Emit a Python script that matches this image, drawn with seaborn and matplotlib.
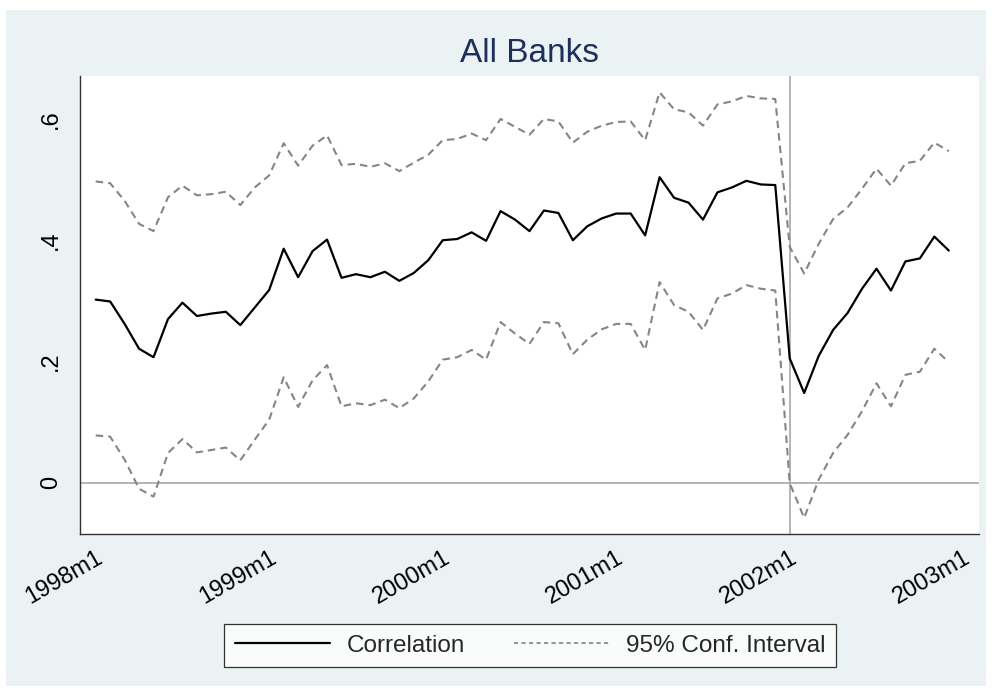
import numpy as np
import pandas as pd
import matplotlib
matplotlib.use("Agg")
import matplotlib.pyplot as plt
from matplotlib.patches import Rectangle
from matplotlib.lines import Line2D
import seaborn as sns

# Monthly rolling correlation, 1998m1 .. 2002m12
correlation = [0.302, 0.299, 0.262, 0.221, 0.207, 0.270, 0.297, 0.275, 0.279, 0.282, 0.260, 0.289,
               0.318, 0.386, 0.339, 0.382, 0.401, 0.338, 0.344, 0.339, 0.348, 0.333, 0.346, 0.367,
               0.400, 0.402, 0.413, 0.399, 0.448, 0.434, 0.415, 0.449, 0.445, 0.400, 0.423, 0.436,
               0.444, 0.444, 0.408, 0.504, 0.470, 0.462, 0.434, 0.479, 0.487, 0.498, 0.492, 0.491,
               0.205, 0.148, 0.209, 0.252, 0.280, 0.320, 0.353, 0.317, 0.365, 0.370, 0.406, 0.383]
ci_upper = [0.497, 0.494, 0.465, 0.427, 0.415, 0.471, 0.490, 0.474, 0.476, 0.480, 0.458, 0.487,
            0.507, 0.560, 0.523, 0.556, 0.573, 0.524, 0.526, 0.521, 0.527, 0.514, 0.528, 0.541,
            0.565, 0.567, 0.576, 0.565, 0.600, 0.587, 0.574, 0.600, 0.596, 0.561, 0.579, 0.589,
            0.595, 0.596, 0.565, 0.644, 0.616, 0.611, 0.589, 0.624, 0.629, 0.638, 0.634, 0.633,
            0.389, 0.345, 0.394, 0.435, 0.454, 0.485, 0.518, 0.490, 0.527, 0.531, 0.561, 0.547]
ci_lower = [0.078, 0.076, 0.038, -0.010, -0.023, 0.049, 0.072, 0.050, 0.054, 0.058, 0.037, 0.071,
            0.104, 0.174, 0.125, 0.169, 0.194, 0.126, 0.131, 0.128, 0.137, 0.123, 0.139, 0.167,
            0.203, 0.207, 0.219, 0.203, 0.265, 0.246, 0.229, 0.265, 0.263, 0.212, 0.236, 0.253,
            0.262, 0.262, 0.219, 0.331, 0.293, 0.282, 0.252, 0.304, 0.312, 0.326, 0.320, 0.317,
            -0.001, -0.058, 0.005, 0.049, 0.079, 0.118, 0.164, 0.126, 0.178, 0.183, 0.221, 0.199]

tick_months = [0, 12, 24, 36, 48, 60]
tick_labels = ["1998m1", "1999m1", "2000m1", "2001m1", "2002m1", "2003m1"]
y_ticks = [0, 0.2, 0.4, 0.6]
y_tick_labels = ["0", ".2", ".4", ".6"]
break_month = 48  # 2002m1

month = np.arange(len(correlation))
df = pd.DataFrame({"month": month, "corr": correlation,
                   "upper": ci_upper, "lower": ci_lower})

sns.set_style("white")
plt.rcParams["font.family"] = ["Liberation Sans", "DejaVu Sans"]

BG = "#EAF2F3"
TXT = "#1E2F5C"
CI_COLOR = "#858585"

fig = plt.figure(figsize=(9.92, 6.96), dpi=100, facecolor="white")
fig.patches.append(Rectangle((6 / 992, 1 - 686 / 696), 980 / 992, 676 / 696,
                             transform=fig.transFigure, facecolor=BG,
                             edgecolor="none", zorder=-10))

ax = fig.add_axes([80 / 992, 1 - 534.3 / 696, 899 / 992, 458.3 / 696])
ax.set_facecolor("white")

ax.axhline(0, color="#a8a8a8", lw=1.2, zorder=1)
ax.axvline(break_month, color="#a8a8a8", lw=1.2, zorder=1)

dash = (3.6, 2.4)
sns.lineplot(data=df, x="month", y="upper", ax=ax, color=CI_COLOR, lw=1.5, zorder=2)
sns.lineplot(data=df, x="month", y="lower", ax=ax, color=CI_COLOR, lw=1.5, zorder=2)
for ln in ax.lines[-2:]:
    ln.set_linestyle((0, dash))
sns.lineplot(data=df, x="month", y="corr", ax=ax, color="black", lw=1.6, zorder=3)

ax.set_xlim(-1.086, 61.09)
ax.set_ylim(-0.0851, 0.6709)
ax.set_xlabel("")
ax.set_ylabel("")

ax.set_xticks(tick_months)
ax.set_xticklabels(tick_labels, rotation=30, ha="right", va="top",
                   rotation_mode="anchor", fontsize=17)
ax.set_yticks(y_ticks)
ax.set_yticklabels(y_tick_labels, rotation=90, va="center", fontsize=17)
ax.tick_params(axis="both", direction="out", length=7, width=0.8,
               color="#333333", labelcolor="black")
ax.tick_params(axis="x", pad=2)
ax.tick_params(axis="y", pad=6)

for side in ["top", "right"]:
    ax.spines[side].set_visible(False)
for side in ["left", "bottom"]:
    ax.spines[side].set_color("#333333")
    ax.spines[side].set_linewidth(1.0)

ax.set_title("All Banks", fontsize=24, color=TXT, pad=10)

handles = [Line2D([], [], color="black", lw=1.6),
           Line2D([], [], color=CI_COLOR, lw=1.2, linestyle=(0, (2.5, 2.0)))]
leg = fig.legend(handles, ["Correlation", "95% Conf. Interval"], ncol=2,
                 loc="center", bbox_to_anchor=(530 / 992, 1 - 645.5 / 696),
                 fontsize=17.5, frameon=True, fancybox=False, handlelength=3.9,
                 handletextpad=0.7, columnspacing=2.0, borderpad=0.45)
leg.get_frame().set_edgecolor("black")
leg.get_frame().set_linewidth(0.9)
leg.get_frame().set_facecolor("white")

fig.savefig("out.png", dpi=100, facecolor="white")
